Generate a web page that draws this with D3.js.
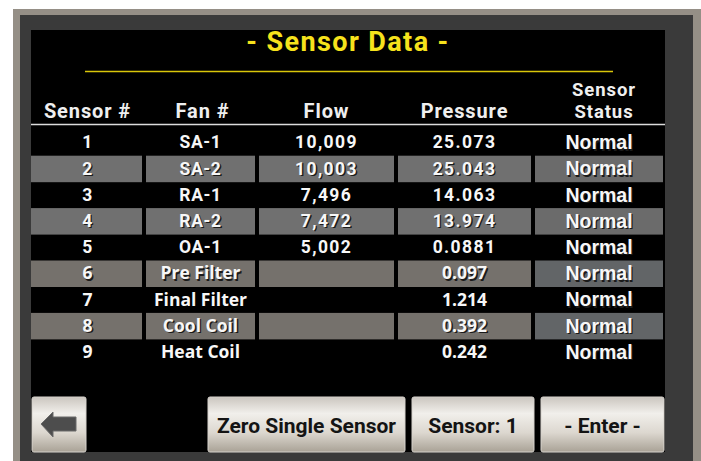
<!DOCTYPE html>
<html>
<head>
<meta charset="utf-8">
<script src="https://cdn.jsdelivr.net/npm/d3@7"></script>
<style>
  body { margin: 0; background: #fff; }
  svg { display: block; }
</style>
</head>
<body>
<script>
var svgWidth = 701;
var svgHeight = 461;

// table data
var sensors = [1, 2, 3, 4, 5, 6, 7, 8, 9];
var fans = ["SA-1", "SA-2", "RA-1", "RA-2", "OA-1", "Pre Filter", "Final Filter", "Cool Coil", "Heat Coil"];
var flows = ["10,009", "10,003", "7,496", "7,472", "5,002", null, null, null, null];
var pressures = ["25.073", "25.043", "14.063", "13.974", "0.0881", "0.097", "1.214", "0.392", "0.242"];
var statuses = ["Normal", "Normal", "Normal", "Normal", "Normal", "Normal", "Normal", "Normal", "Normal"];

var columnKeys = ["sensor", "fan", "flow", "pressure", "status"];
var headerLabels = [["Sensor #"], ["Fan #"], ["Flow"], ["Pressure"], ["Sensor", "Status"]];
var buttonLabels = ["", "Zero Single Sensor", "Sensor: 1", "- Enter -"];
var titleText = "- Sensor Data -";

// build rows from the arrays
var rows = sensors.map(function(s, i) {
    return {
        sensor: String(s),
        fan: fans[i],
        flow: flows[i],
        pressure: pressures[i],
        status: statuses[i],
        legacy: flows[i] === null,   // rows drawn with the other font in the panel
        shaded: i % 2 === 1
    };
});

var svg = d3.select("body").append("svg").attr("width", svgWidth).attr("height", svgHeight);

// frame
svg.append("rect").attr("x", 13).attr("y", 9).attr("width", 688).attr("height", 460).attr("fill", "#958f86");
svg.append("rect").attr("x", 20).attr("y", 15).attr("width", 673).attr("height", 455).attr("fill", "#3a3a3a");
svg.append("rect").attr("x", 31).attr("y", 30).attr("width", 634).attr("height", 422).attr("fill", "#000");

// title
svg.append("text")
    .attr("x", 348).attr("y", 51)
    .attr("text-anchor", "middle")
    .attr("font-family", "Roboto")
    .attr("font-weight", "bold")
    .attr("font-size", 27)
    .attr("letter-spacing", 1.4)
    .attr("fill", "#f6e21c")
    .text(titleText);

svg.append("line")
    .attr("x1", 85).attr("x2", 613).attr("y1", 71.5).attr("y2", 71.5)
    .attr("stroke", "#d9c60a").attr("stroke-width", 1.5);

// column scale (left edges) and widths
var colEdges = [31, 144, 257, 396, 533, 665];
var colX = d3.scaleOrdinal().domain(columnKeys).range(colEdges.slice(0, 5));
var colW = d3.scaleOrdinal().domain(columnKeys).range(colEdges.slice(1).map(function(e, i) { return e - colEdges[i]; }));
function colCenter(k) { return colX(k) + colW(k) / 2; }

// row scale
var y = d3.scaleBand().domain(sensors.map(String)).range([129, 129 + 9 * 26.2]);

// header
var header = svg.append("g").attr("class", "header");
columnKeys.forEach(function(k, i) {
    var lines = headerLabels[i];
    var hx = colCenter(k) + (k === "status" ? 5 : (k === "fan" ? 2 : 0));
    header.append("text")
        .attr("text-anchor", "middle")
        .attr("font-family", "Roboto")
        .attr("font-weight", "bold")
        .attr("font-size", lines.length > 1 ? 18.5 : 20)
        .attr("letter-spacing", 0.9)
        .attr("fill", "#efefef")
        .selectAll("tspan").data(lines).join("tspan")
        .attr("x", hx)
        .attr("y", function(d, j) { return 118 - (lines.length - 1 - j) * 22; })
        .text(function(d) { return d; });
});

svg.append("line")
    .attr("x1", 31).attr("x2", 665).attr("y1", 124.5).attr("y2", 124.5)
    .attr("stroke", "#dcdcdc").attr("stroke-width", 1.5);

// cells
var cells = [];
rows.forEach(function(r) {
    columnKeys.forEach(function(k) {
        cells.push({ row: r, key: k, value: r[k] });
    });
});

function cellFill(c) {
    if (c.key === "status") return c.row.legacy ? "#626567" : "#6b6b6b";
    return c.row.legacy ? "#75716c" : "#707070";
}

svg.append("g").attr("class", "shade")
    .selectAll("rect")
    .data(cells.filter(function(c) { return c.row.shaded; }))
    .join("rect")
    .attr("x", function(c) { return colX(c.key) + (c.key === "sensor" ? 0 : 2); })
    .attr("y", function(c) { return y(c.row.sensor) + 0.5; })
    .attr("width", function(c) { return colW(c.key) - (c.key === "sensor" ? 2 : 4); })
    .attr("height", y.bandwidth() + 0.3)
    .attr("fill", cellFill);

var textCells = cells.filter(function(c) { return c.value !== null; });

// drop shadow under text
svg.append("g").attr("class", "shadow")
    .selectAll("text")
    .data(textCells.filter(function(c) { return c.key === "status" || c.row.shaded; }))
    .join("text")
    .attr("x", function(c) { return colCenter(c.key) + 1.4; })
    .attr("y", function(c) { return y(c.row.sensor) + y.bandwidth() / 2 + 1.4; })
    .attr("dy", "0.36em")
    .attr("text-anchor", "middle")
    .call(textStyle)
    .attr("fill", "#1b1b1b")
    .text(function(c) { return c.value; });

svg.append("g").attr("class", "values")
    .selectAll("text")
    .data(textCells)
    .join("text")
    .attr("x", function(c) { return colCenter(c.key); })
    .attr("y", function(c) { return y(c.row.sensor) + y.bandwidth() / 2; })
    .attr("dy", "0.36em")
    .attr("text-anchor", "middle")
    .call(textStyle)
    .attr("fill", "#f7f7f7")
    .text(function(c) { return c.value; });

function textStyle(sel) {
    sel.attr("font-family", function(c) {
            if (c.key === "status") return "Liberation Sans";
            if (c.row.legacy) return "Open Sans";
            return "Roboto";
        })
        .attr("font-weight", "bold")
        .attr("font-size", function(c) {
            if (c.key === "status") return 19.5;
            return 17.5;
        })
        .attr("letter-spacing", function(c) {
            if (c.key === "status" || c.row.legacy) return 0;
            if (c.key === "flow" || c.key === "pressure") return 1.4;
            return 0.6;
        });
}

// buttons
var defs = svg.append("defs");
var grad = defs.append("linearGradient").attr("id", "btn").attr("x1", 0).attr("y1", 0).attr("x2", 0).attr("y2", 1);
grad.append("stop").attr("offset", "0%").attr("stop-color", "#cbc6bf");
grad.append("stop").attr("offset", "30%").attr("stop-color", "#f1efeb");
grad.append("stop").attr("offset", "65%").attr("stop-color", "#dcd7cf");
grad.append("stop").attr("offset", "100%").attr("stop-color", "#a9a296");

var buttonEdges = [[32, 86], [208, 405], [412, 534], [541, 664]];
var buttons = svg.append("g").attr("class", "buttons")
    .selectAll("g")
    .data(buttonLabels)
    .join("g");

buttons.append("rect")
    .attr("x", function(d, i) { return buttonEdges[i][0]; })
    .attr("y", 397)
    .attr("width", function(d, i) { return buttonEdges[i][1] - buttonEdges[i][0]; })
    .attr("height", 55)
    .attr("rx", 2)
    .attr("fill", "url(#btn)")
    .attr("stroke", "#d6d2cc")
    .attr("stroke-width", 1);

buttons.append("text")
    .attr("x", function(d, i) { return (buttonEdges[i][0] + buttonEdges[i][1]) / 2; })
    .attr("y", 433)
    .attr("text-anchor", "middle")
    .attr("font-family", "Roboto")
    .attr("font-weight", "bold")
    .attr("font-size", 21)
    .attr("fill", "#141414")
    .text(function(d) { return d; });

// back arrow
var ax = (buttonEdges[0][0] + buttonEdges[0][1]) / 2;
svg.append("path")
    .attr("d", "M" + (ax - 18) + ",424 L" + (ax - 6) + ",412 L" + (ax - 6) + ",417 L" + (ax + 17) + ",417 L" + (ax + 17) + ",431 L" + (ax - 6) + ",431 L" + (ax - 6) + ",437 Z")
    .attr("fill", "#4d4d4d")
    .attr("stroke", "#6a6a6a")
    .attr("stroke-width", 1);
</script>
</body>
</html>
